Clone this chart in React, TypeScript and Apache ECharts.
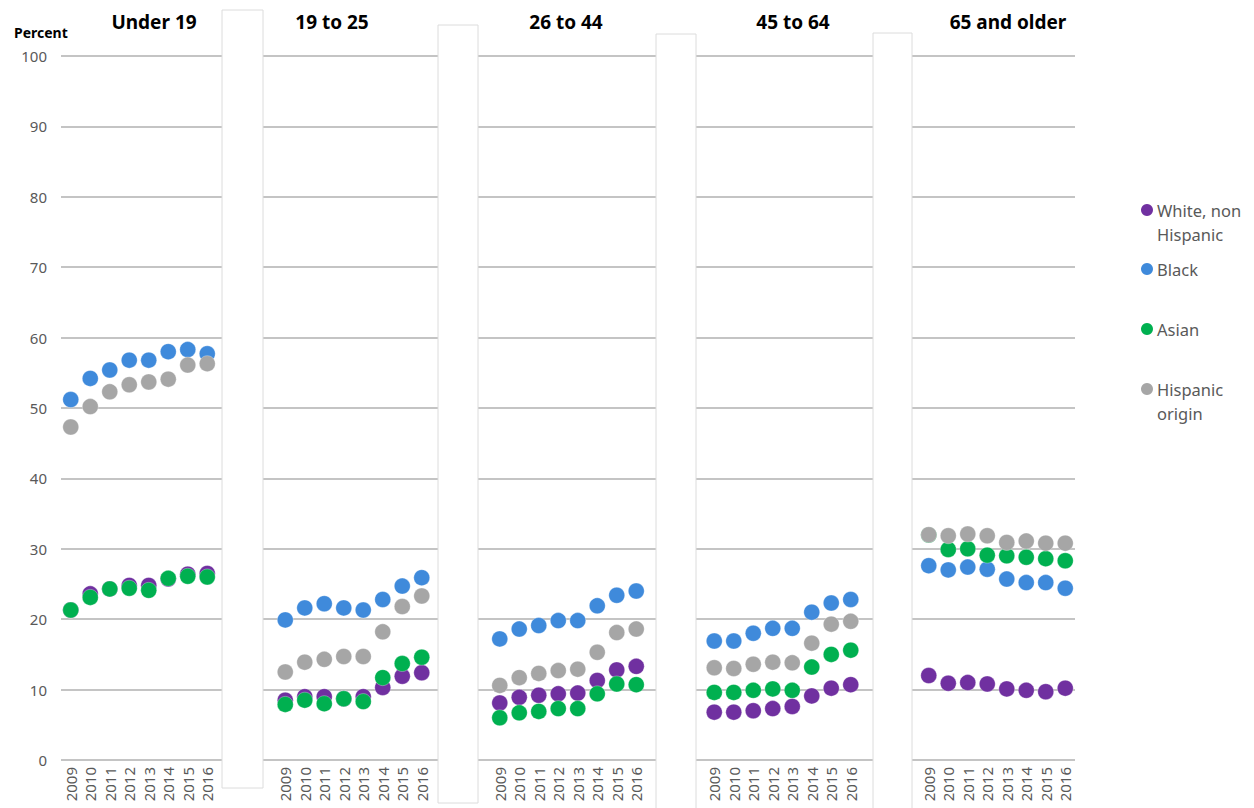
import React, { useEffect, useRef } from "react";
import * as echarts from "echarts";

const years = ["2009", "2010", "2011", "2012", "2013", "2014", "2015", "2016"];
const panelTitles = ["Under 19", "19 to 25", "26 to 44", "45 to 64", "65 and older"];
const gapSlots = 3;
const seriesNames = ["White, non Hispanic", "Black", "Asian", "Hispanic origin"];
const legendLabels = ["White, non\nHispanic", "Black", "Asian", "Hispanic\norigin"];
const colors = ["#7030A0", "#3F8ADB", "#00B050", "#A6A6A6"];

// values per age panel, 2009..2016
const white = [
  [21.3, 23.6, 24.3, 24.8, 24.8, 25.7, 26.4, 26.5],
  [8.5, 9.0, 9.0, 8.7, 9.0, 10.3, 11.9, 12.4],
  [8.1, 8.9, 9.2, 9.4, 9.5, 11.3, 12.8, 13.3],
  [6.8, 6.8, 7.0, 7.3, 7.6, 9.1, 10.2, 10.7],
  [12.0, 10.9, 11.0, 10.8, 10.1, 9.9, 9.7, 10.2],
];
const black = [
  [51.2, 54.2, 55.4, 56.8, 56.8, 58.0, 58.3, 57.7],
  [19.9, 21.6, 22.2, 21.6, 21.3, 22.8, 24.7, 25.9],
  [17.2, 18.6, 19.1, 19.8, 19.8, 21.9, 23.4, 24.0],
  [16.9, 16.9, 18.0, 18.7, 18.7, 21.0, 22.3, 22.8],
  [27.6, 27.0, 27.4, 27.1, 25.7, 25.2, 25.2, 24.4],
];
const asian = [
  [21.3, 23.1, 24.3, 24.4, 24.1, 25.8, 26.1, 26.0],
  [7.9, 8.5, 8.0, 8.7, 8.3, 11.7, 13.7, 14.6],
  [6.0, 6.7, 6.9, 7.3, 7.3, 9.4, 10.8, 10.7],
  [9.6, 9.6, 9.9, 10.1, 9.9, 13.2, 15.0, 15.6],
  [31.95, 29.9, 30.0, 29.1, 29.0, 28.8, 28.6, 28.3],
];
const hispanic = [
  [47.3, 50.2, 52.3, 53.3, 53.7, 54.1, 56.1, 56.3],
  [12.5, 13.9, 14.3, 14.7, 14.7, 18.2, 21.8, 23.3],
  [10.6, 11.7, 12.3, 12.7, 12.9, 15.3, 18.1, 18.6],
  [13.1, 13.0, 13.6, 13.9, 13.8, 16.6, 19.3, 19.7],
  [32.0, 31.85, 32.1, 31.85, 30.9, 31.1, 30.8, 30.8],
];
const yTicks = [0, 10, 20, 30, 40, 50, 60, 70, 80, 90, 100];

function buildCategories(): string[] {
  const cats: string[] = [];
  panelTitles.forEach((_, p) => {
    years.forEach((y) => cats.push(y));
    if (p < panelTitles.length - 1) {
      for (let g = 0; g < gapSlots; g++) cats.push("gap" + p + "_" + g);
    }
  });
  return cats;
}

function flatten(panels: number[][]): (number | null)[] {
  const out: (number | null)[] = [];
  panels.forEach((vals, p) => {
    vals.forEach((v) => out.push(v));
    if (p < panels.length - 1) {
      for (let g = 0; g < gapSlots; g++) out.push(null);
    }
  });
  return out;
}

const FONT = "'Noto Sans', 'Open Sans', sans-serif";

export default function App() {
  const ref = useRef<HTMLDivElement>(null);
  useEffect(() => {
    if (!ref.current) return;
    const chart = echarts.init(ref.current, undefined, { renderer: "svg" });
    const categories = buildCategories();
    const allSeries = [white, black, asian, hispanic];

    const gapRects = [
      { x: 222, y: 10, w: 41, h: 778 },
      { x: 438, y: 25, w: 40, h: 778 },
      { x: 656, y: 34, w: 40, h: 780 },
      { x: 873, y: 33, w: 39, h: 780 },
    ];
    const titlePos = [154, 332, 566, 793, 1008];
    const legendY = [210, 269, 329, 389];

    const graphic: any[] = [];
    gapRects.forEach((r) =>
      graphic.push({
        type: "rect",
        z: 50,
        shape: { x: r.x, y: r.y, width: r.w, height: r.h },
        style: { fill: "#FFFFFF", stroke: "#DCDCDC", lineWidth: 1 },
      })
    );
    panelTitles.forEach((t, i) =>
      graphic.push({
        type: "text",
        z: 60,
        x: titlePos[i],
        y: 22,
        style: {
          text: t,
          fill: "#000000",
          font: "bold 19px " + FONT,
          textAlign: "center",
          textVerticalAlign: "middle",
        },
      })
    );
    graphic.push({
      type: "text",
      x: 14,
      y: 32,
      style: {
        text: "Percent",
        fill: "#000000",
        font: "bold 14px " + FONT,
        textAlign: "left",
        textVerticalAlign: "middle",
      },
    });
    legendLabels.forEach((l, i) => {
      graphic.push({
        type: "circle",
        shape: { cx: 1147, cy: legendY[i], r: 6 },
        style: { fill: colors[i] },
      });
      graphic.push({
        type: "text",
        x: 1157,
        y: legendY[i] - 12,
        style: {
          text: l,
          fill: "#595959",
          font: "16.5px " + FONT,
          lineHeight: 24,
          textAlign: "left",
          textVerticalAlign: "top",
        },
      });
    });

    chart.setOption({
      animation: false,
      backgroundColor: "#FFFFFF",
      grid: { left: 61, right: 179, top: 56, bottom: 48, containLabel: false },
      xAxis: {
        type: "category",
        data: categories,
        boundaryGap: true,
        axisLine: { show: false },
        axisTick: { show: false },
        splitLine: { show: false },
        axisLabel: {
          interval: 0,
          rotate: 90,
          margin: 7,
          color: "#595959",
          fontSize: 15,
          fontFamily: FONT,
          formatter: (v: string) => (v.startsWith("gap") ? "" : v),
        },
      },
      yAxis: {
        type: "value",
        min: yTicks[0],
        max: yTicks[yTicks.length - 1],
        interval: 10,
        axisLine: { show: false },
        axisTick: { show: false },
        axisLabel: { color: "#595959", fontSize: 15, fontFamily: FONT, margin: 14 },
        splitLine: { show: true, lineStyle: { color: "#C4C4C4", width: 2 } },
      },
      series: allSeries.map((s, i) => ({
        name: seriesNames[i],
        type: "scatter",
        data: flatten(s),
        symbol: "circle",
        symbolSize: 16,
        itemStyle: {
          color: colors[i],
          opacity: 1,
          borderColor: "rgba(255,255,255,0.3)",
          borderWidth: 1,
        },
        z: 2 + i,
      })),
      graphic,
    });
    return () => chart.dispose();
  }, []);
  return (
    <div
      ref={ref}
      style={{ position: "absolute", left: 0, top: 0, width: 1254, height: 808 }}
    />
  );
}
